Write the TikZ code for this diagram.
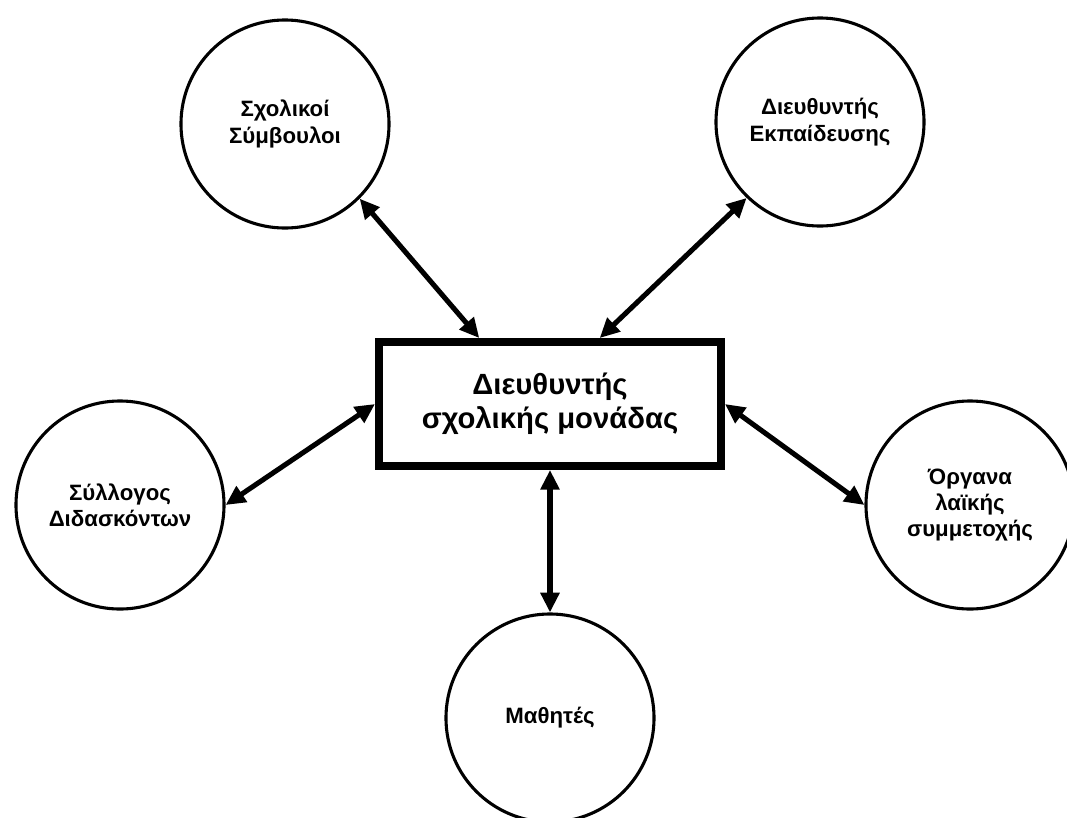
\documentclass[tikz,border=0pt]{standalone}
\usepackage{fontspec}
\setmainfont{Liberation Sans}
\usetikzlibrary{arrows.meta}

\tikzset{
  role/.style={circle, draw, line width=2.2pt, minimum size=5.2cm, inner sep=0pt,
    align=center, font=\bfseries\fontsize{15.8}{18.8}\selectfont},
  head/.style={rectangle, draw, line width=5.6pt, minimum width=8.55cm, minimum height=3.1cm,
    align=center, font=\bfseries\fontsize{20.8}{24.5}\selectfont},
  link/.style={line width=3.6pt, {Triangle[length=14pt,width=13pt]}-{Triangle[length=14pt,width=13pt]}}
}

\begin{document}
\begin{tikzpicture}[x=0.025cm,y=-0.025cm]
  % page frame, 1067 x 817 px
  \useasboundingbox (0,0) rectangle (1067,817);
  \clip (0,0) rectangle (1067,817);

  % centre box
  \node[head] (box) at (550,404) {Διευθυντής\\σχολικής μονάδας};

  % circles round it
  \node[role] (sch) at (285,124) {Σχολικοί\\Σύμβουλοι};
  \node[role] (dir) at (820,122) {Διευθυντής\\Εκπαίδευσης};
  \node[role] (syl) at (120,505) {Σύλλογος\\Διδασκόντων};
  \node[role] (org) at (970,505) {Όργανα\\λαϊκής\\συμμετοχής};
  \node[role] (mat) at (550,718) {Μαθητές};

  % two-way arrows
  \foreach \a/\b in {box.137/sch.-45, box.53/dir.226, box.west/syl.east,
                     box.east/org.west, box.south/mat.north}
    \draw[link] (\a) -- (\b);
\end{tikzpicture}
\end{document}
